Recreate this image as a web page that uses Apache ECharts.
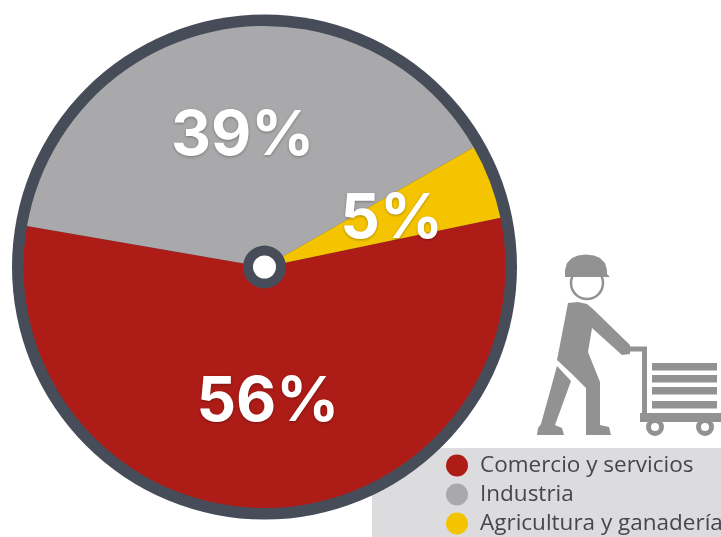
<!DOCTYPE html>
<html>
<head>
<meta charset="utf-8">
<style>
  html, body { margin: 0; padding: 0; background: #fff; }
  #chart { width: 721px; height: 537px; }
</style>
<script src="https://cdn.jsdelivr.net/npm/echarts@6/dist/echarts.min.js"></script>
</head>
<body>
<div id="chart"></div>
<script>
const categories = ["Comercio y servicios", "Industria", "Agricultura y ganadería"];
const shares = [56, 39, 5];
const colors = ["#ae1c17", "#a9a9ab", "#f5c400"];
const labelNudge = [[1, -2], [2, 4], [-1, 1]];

const ringColor = "#474c59";
const iconColor = "#929293";
const center = [264.5, 267];
const pieData = categories.map((name, i) => ({ name, value: shares[i], itemStyle: { color: colors[i] } }));

const ch = echarts.init(document.getElementById("chart"));

ch.setOption({
  backgroundColor: "#fff",
  animation: false,
  legend: {
    orient: "vertical",
    left: 446,
    top: 454,
    padding: 0,
    icon: "circle",
    itemWidth: 22,
    itemHeight: 22,
    itemGap: 6,
    selectedMode: false,
    data: categories,
    textStyle: {
      color: "#45474f",
      fontFamily: "Open Sans",
      fontSize: 22.5,
      padding: [0, 0, 0, 7],
    },
  },
  graphic: [
    // panel behind the legend
    {
      type: "rect", z: -10,
      shape: { x: 372, y: 448, width: 349, height: 89 },
      style: { fill: "#dcdcde" },
    },
    // worker: head and helmet
    {
      type: "circle", z: 1,
      shape: { cx: 587, cy: 283, r: 16 },
      style: { fill: "#fff", stroke: iconColor, lineWidth: 2.5 },
    },
    {
      type: "polygon", z: 1,
      shape: { points: [[565, 277], [565, 270], [567, 263], [572, 258], [578, 255.5], [586, 254.5], [594, 255.5], [600, 258], [605, 263], [607, 270], [607, 274], [610, 277]] },
      style: { fill: iconColor },
    },
    // worker: torso, arm and front leg
    {
      type: "polygon", z: 1,
      shape: { points: [[568, 303], [578, 302], [587, 304], [594, 310], [630, 345], [630, 354], [622, 355], [592, 328], [588, 352], [600, 382], [600, 425], [609, 427], [611, 435], [586, 435], [586, 388], [572, 374], [557, 360]] },
      style: { fill: iconColor },
    },
    // worker: back leg
    {
      type: "polygon", z: 1,
      shape: { points: [[557, 366], [571, 381], [555, 425], [562, 428], [564, 435], [537, 435], [538, 428], [541, 424]] },
      style: { fill: iconColor },
    },
    // cart: handle and frame
    {
      type: "polyline", z: 1,
      shape: { points: [[628, 349], [644.5, 349], [644.5, 418]] },
      style: { fill: "none", stroke: iconColor, lineWidth: 5 },
    },
    {
      type: "rect", z: 1,
      shape: { x: 640, y: 413, width: 81, height: 9 },
      style: { fill: iconColor },
    },
    // cart: shelves
    ...[363, 375, 387, 401].map((y) => ({
      type: "rect", z: 1,
      shape: { x: 652, y, width: 65, height: 7.5 },
      style: { fill: iconColor },
    })),
    // cart: wheels
    ...[655, 705].map((cx) => ({
      type: "circle", z: 1,
      shape: { cx, cy: 427, r: 6.5 },
      style: { fill: "#fff", stroke: iconColor, lineWidth: 5 },
    })),
  ],
  series: [
    {
      // outer ring
      type: "pie", silent: true, z: 2,
      center, radius: [0, 252.5],
      startAngle: 90,
      label: { show: false }, labelLine: { show: false },
      data: [{ value: 1, itemStyle: { color: ringColor } }],
    },
    {
      type: "pie", silent: true, z: 3,
      center, radius: [0, 241],
      startAngle: 11.8, clockwise: true,
      label: { show: false }, labelLine: { show: false },
      data: pieData,
    },
    {
      // centre hub
      type: "pie", silent: true, z: 4,
      center, radius: [11, 21.5],
      label: { show: false }, labelLine: { show: false },
      data: [{ value: 1, itemStyle: { color: ringColor } }],
    },
    {
      type: "pie", silent: true, z: 4,
      center, radius: [0, 11.5],
      label: { show: false }, labelLine: { show: false },
      data: [{ value: 1, itemStyle: { color: "#fff" } }],
    },
    {
      // percent labels sit on a see-through copy so they land at r = 134
      type: "pie", silent: true, z: 5,
      center, radius: [27, 241],
      startAngle: 11.8, clockwise: true,
      label: {
        show: true,
        position: "inside",
        formatter: "{c}%",
        color: "#fff",
        fontFamily: "Inter",
        fontWeight: 700,
        fontSize: 62,
        textShadowColor: "rgba(0,0,0,0.3)",
        textShadowBlur: 3,
        textShadowOffsetY: 1,
      },
      labelLine: { show: false },
      data: shares.map((value, i) => ({
        name: categories[i],
        value,
        itemStyle: { color: "transparent" },
        label: { offset: labelNudge[i] },
      })),
    },
  ],
});
</script>
</body>
</html>
